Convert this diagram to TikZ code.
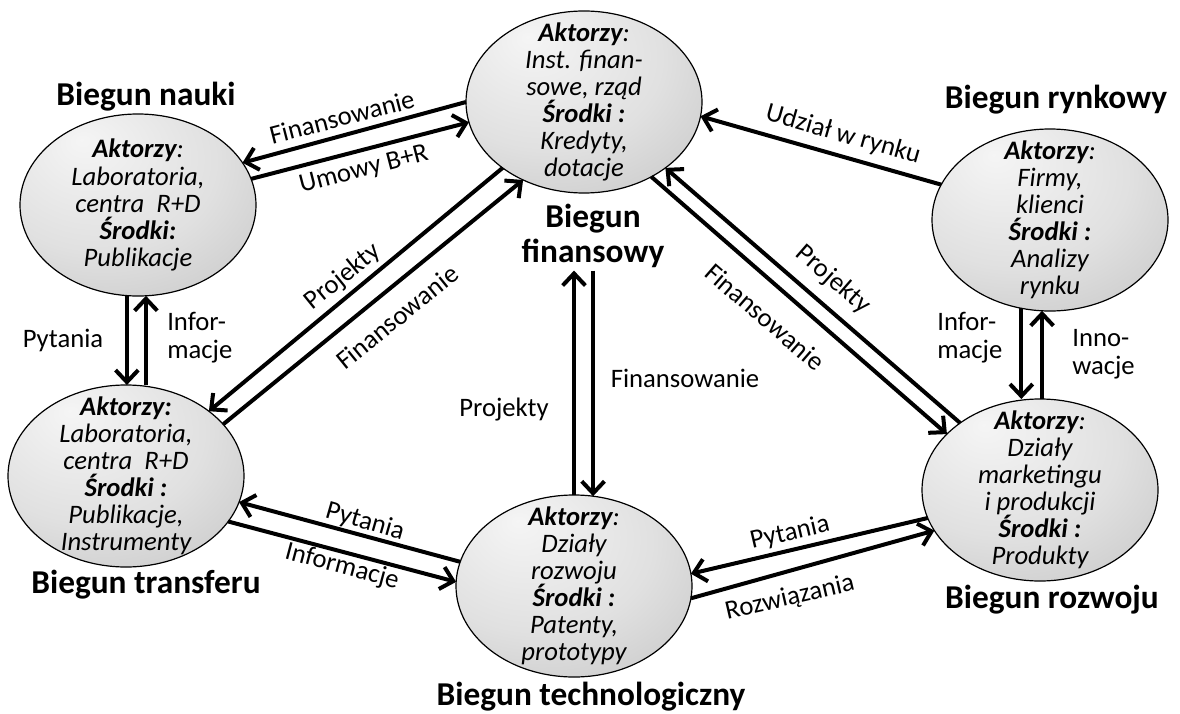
\documentclass[tikz,border=0pt]{standalone}
\usepackage{fontspec}
\setmainfont{Carlito}
\usetikzlibrary{arrows.meta,shapes.geometric}
% soft grey ball-like fill, lit from the upper left
\pgfdeclareradialshading{polefill}{\pgfpoint{-12bp}{18bp}}{color(0bp)=(black!4); color(25bp)=(black!12); color(50bp)=(black!25); color(75bp)=(black!40)}
\begin{document}
\begin{tikzpicture}[x=0.75pt,y=-0.75pt,
  pole/.style={ellipse, draw=black, line width=0.9pt, shade, shading=polefill,
    minimum width=177pt, minimum height=136.5pt, inner sep=0pt, outer sep=0pt},
  poletext/.style={align=center, font=\fontsize{20}{20.3}\selectfont\itshape, inner sep=0pt},
  heading/.style={align=center, font=\fontsize{25}{26}\selectfont\bfseries, inner sep=2pt},
  lab/.style={align=left, font=\fontsize{20}{21}\selectfont, inner sep=0pt},
  link/.style={line width=3pt},
  >={Straight Barb[length=9pt,width=17pt]},
]
\useasboundingbox (0,0) rectangle (1180,713);

% the six poles
\node[pole] (nauki)    at (138,205)  {};
\node[pole] (fin)      at (584,102)  {};
\node[pole] (rynek)    at (1050,220) {};
\node[pole] (transfer) at (126,476)  {};
\node[pole] (techno)   at (574,586)  {};
\node[pole] (rozwoj)   at (1040,490) {};

\node[poletext] (naukiT) at (nauki.center)
  {\textbf{Aktorzy}:\\Laboratoria,\\centra\ \ R+D\\\textbf{Środki:}\\Publikacje};
\node[poletext] (finT) at (fin.center)
  {\textbf{Aktorzy}:\\Inst. finan-\\sowe, rząd\\\textbf{Środki :}\\Kredyty,\\dotacje};
\node[poletext] (rynekT) at (rynek.center)
  {\textbf{Aktorzy}:\\Firmy,\\klienci\\\textbf{Środki :}\\Analizy\\rynku};
\node[poletext] (transferT) at (transfer.center)
  {\textbf{Aktorzy:}\\Laboratoria,\\centra\ \ R+D\\\textbf{Środki :}\\Publikacje,\\Instrumenty};
\node[poletext] (technoT) at (techno.center)
  {\textbf{Aktorzy}:\\Działy\\rozwoju\\\textbf{Środki :}\\Patenty,\\prototypy};
\node[poletext] (rozwojT) at (rozwoj.center)
  {\textbf{Aktorzy}:\\Działy\\marketingu\\i produkcji\\\textbf{Środki :}\\Produkty};

% pole names
\node[heading] (naukiH)    at (146,97)   {Biegun nauki};
\node[heading] (finH)      at (593,236)  {Biegun\\finansowy};
\node[heading] (rynekH)    at (1056,100) {Biegun rynkowy};
\node[heading] (transferH) at (146,585)  {Biegun transferu};
\node[heading] (technoH)   at (591,697)  {Biegun technologiczny};
\node[heading] (rozwojH)   at (1052,600) {Biegun rozwoju};

% nauki <-> finansowy
\draw[link,->] (fin.180.5) -- (nauki.22);
\draw[link,->] (nauki.13) -- (fin.190);
\node[lab, rotate=14.5] (l1) at (342,117) {Finansowanie};
\node[lab, rotate=14.5] (l2) at (364,170) {Umowy B+R};

% nauki <-> transfer
\draw[link,->] (nauki.263.7) -- (nauki.263.7 |- transfer.north);
\draw[link,->] (nauki.275.6 |- transfer.north) -- (nauki.275.6);
\node[lab] (l3) at (63,340) {Pytania};
\node[lab, anchor=west] (l4) at (167,338) {Infor-\\macje};

% finansowy <-> transfer
\draw[link,->] (fin.219.2) -- (transfer.38);
\draw[link,->] (transfer.28.3) -- (fin.232);
\node[lab, rotate=39] (l5) at (343,277) {Projekty};
\node[lab, rotate=39] (l6) at (397,317) {Finansowanie};

% finansowy <-> technologiczny
\draw[link,->] (techno.90) -- (techno.90 |- finH.south);
\draw[link,->] (techno.78 |- finH.south) -- (techno.78);
\node[lab] (l7) at (504,410) {Projekty};
\node[lab] (l8) at (685,378) {Finansowanie};

% rynkowy -> finansowy
\draw[link,->] (rynek.162) -- (fin.353.8);
\node[lab, rotate=-16] (l9) at (843,135) {Udział w rynku};

% finansowy <-> rozwoj
\draw[link,->] (rozwoj.140.4) -- (fin.321.8);
\draw[link,->] (fin.312.2) -- (rozwoj.149);
\node[lab, rotate=-41] (l10) at (833,280) {Projekty};
\node[lab, rotate=-41] (l11) at (765,317) {Finansowanie};

% rynkowy <-> rozwoj
\draw[link,->] (rynek.252.6) -- (rynek.252.6 |- rozwoj.north);
\draw[link,->] (rynek.265 |- rozwoj.north) -- (rynek.265);
\node[lab, anchor=west] (l12) at (937,338) {Infor-\\macje};
\node[lab, anchor=west] (l13) at (1072,354) {Inno-\\wacje};

% transfer <-> technologiczny
\draw[link,->] (techno.168.9) -- (transfer.347.5);
\draw[link,->] (transfer.336.5) -- (techno.178.5);
\node[lab, rotate=-16] (l14) at (365,522) {Pytania};
\node[lab, rotate=-15] (l15) at (342,567) {Informacje};

% technologiczny <-> rozwoj
\draw[link,->] (rozwoj.194.5) -- (techno.6.2);
\draw[link,->] (techno.354.2) -- (rozwoj.201.4);
\node[lab, rotate=13] (l16) at (790,533) {Pytania};
\node[lab, rotate=13] (l17) at (790,598) {Rozwiązania};
\end{tikzpicture}
\end{document}
